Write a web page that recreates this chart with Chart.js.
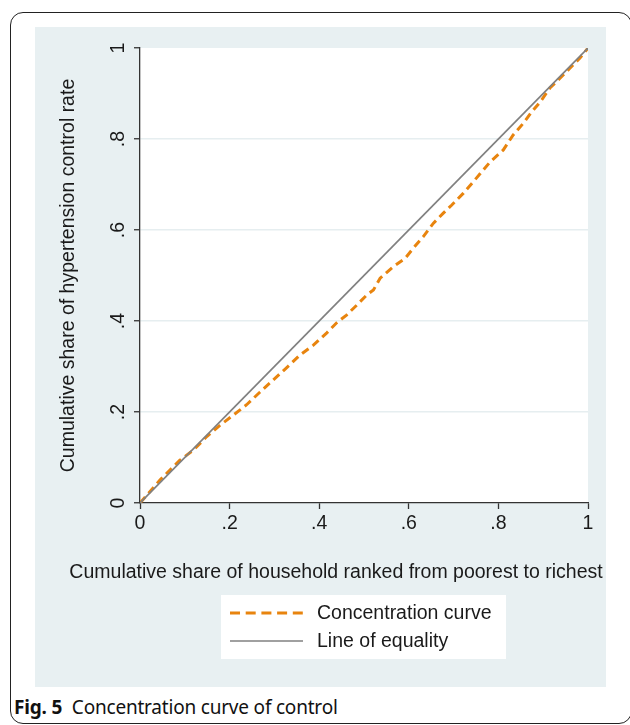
<!DOCTYPE html>
<html>
<head>
<meta charset="utf-8">
<script src="https://cdn.jsdelivr.net/npm/chart.js@4.4.1/dist/chart.umd.min.js"></script>
<style>
  html, body { margin: 0; padding: 0; background: #fff; width: 630px; height: 725px; overflow: hidden; }
  .frame { position: absolute; left: 10px; top: 12px; width: 622px; height: 712px; border: 1.3px solid #222; border-radius: 13px; box-sizing: border-box; }
  .panel { position: absolute; left: 35px; top: 27px; width: 571px; height: 660px; background: #e8f0f2; }
  .caption { position: absolute; left: 14px; top: 694px; font-family: "Noto Sans", sans-serif; font-size: 19px; color: #111; letter-spacing: -0.2px; }
  .caption b { font-weight: 700; margin-right: 5px; }
</style>
</head>
<body>
<div class="frame"></div>
<div class="panel"><canvas id="chart" width="571" height="660"></canvas></div>
<div class="caption"><b>Fig. 5</b> Concentration curve of control</div>

<script>
// ===============================
// DATA
// ===============================
const shareHouseholds = [0, .045, .089, .119, .149, .179, .208, .238, .268, .297, .327, .357, .387, .417, .439, .461, .484, .506, .521, .536, .565, .592, .610, .632, .655, .677, .696, .722, .744, .762, .781, .811, .833, .856, .874, .893, .915, .938, .960, .982, 1];
const shareControl    = [0, .051, .094, .116, .146, .171, .193, .216, .244, .270, .297, .325, .347, .374, .396, .413, .435, .457, .468, .494, .519, .538, .560, .585, .615, .637, .655, .681, .706, .727, .749, .776, .809, .835, .859, .881, .912, .934, .956, .978, 1];
const equalityX = [0, 1];
const equalityY = [0, 1];

const tickValues = [0, .2, .4, .6, .8, 1];
const tickLabels = ['0', '.2', '.4', '.6', '.8', '1'];

const xTitle = 'Cumulative share of household ranked from poorest to richest';
const yTitle = 'Cumulative share of hypertension control rate';

// ===============================
// STYLE
// ===============================
const FONT = { family: '"Liberation Sans", Arial, sans-serif', size: 19.5 };
const TEXT = '#1a1a1a';
const AXIS = '#333';

// ===============================
// PLUGINS
// ===============================
const plotBackground = {
  id: 'plotBackground',
  beforeDraw(chart) {
    const { ctx, chartArea: a } = chart;
    ctx.save();
    ctx.fillStyle = '#fff';
    ctx.fillRect(a.left, a.top, a.right - a.left, a.bottom - a.top);
    ctx.restore();
  }
};

// x title is wider than the axis, chart.js would squeeze it
const wideXTitle = {
  id: 'wideXTitle',
  afterDraw(chart) {
    const { ctx } = chart;
    ctx.save();
    ctx.font = `${FONT.size}px ${FONT.family}`;
    ctx.fillStyle = TEXT;
    ctx.textAlign = 'center';
    ctx.textBaseline = 'middle';
    ctx.fillText(xTitle, 301, 546);
    ctx.restore();
  }
};

const boxLegend = {
  id: 'boxLegend',
  afterDraw(chart) {
    const { ctx } = chart;
    ctx.save();
    ctx.fillStyle = '#fff';
    ctx.fillRect(186, 568, 285, 64);
    ctx.font = `${FONT.size}px ${FONT.family}`;
    ctx.textBaseline = 'middle';
    ctx.textAlign = 'left';
    chart.data.datasets.forEach((ds, i) => {
      const y = 586 + i * 28;
      ctx.strokeStyle = ds.borderColor;
      ctx.lineWidth = ds.borderWidth;
      ctx.setLineDash(ds.legendDash || []);
      ctx.beginPath();
      ctx.moveTo(195, y);
      ctx.lineTo(268, y);
      ctx.stroke();
      ctx.setLineDash([]);
      ctx.fillStyle = TEXT;
      ctx.fillText(ds.label, 282, y + 1);
    });
    ctx.restore();
  }
};

// ===============================
// CHART
// ===============================
new Chart(document.getElementById('chart'), {
  type: 'line',
  data: {
    datasets: [
      {
        label: 'Concentration curve',
        data: shareHouseholds.map((x, i) => ({ x, y: shareControl[i] })),
        borderColor: '#e8840e',
        borderWidth: 3,
        borderDash: [8, 5],
        legendDash: [10, 5.7],
        pointRadius: 0,
        tension: 0,
        order: 1
      },
      {
        label: 'Line of equality',
        data: equalityX.map((x, i) => ({ x, y: equalityY[i] })),
        borderColor: '#808080',
        borderWidth: 1.7,
        pointRadius: 0,
        tension: 0,
        order: 0
      }
    ]
  },
  options: {
    responsive: false,
    animation: false,
    devicePixelRatio: 1,
    layout: { padding: { left: 0, right: 18, top: 21, bottom: 94 } },
    plugins: {
      legend: { display: false },
      tooltip: { enabled: false }
    },
    scales: {
      x: {
        type: 'linear',
        min: 0,
        max: 1,
        afterBuildTicks: s => { s.ticks = tickValues.map(v => ({ value: v })); },
        afterFit: s => { s.height = 90; },
        ticks: {
          callback: (v, i) => tickLabels[i],
          font: FONT,
          color: TEXT,
          padding: 3,
          maxRotation: 0,
          minRotation: 0
        },
        grid: { drawOnChartArea: false, tickLength: 6, tickColor: AXIS, tickWidth: 1.3 },
        border: { color: AXIS, width: 1.3 },
        title: { display: false, text: xTitle }
      },
      y: {
        type: 'linear',
        min: 0,
        max: 1,
        afterBuildTicks: s => { s.ticks = tickValues.map(v => ({ value: v })); },
        afterFit: s => { s.width = 105; },
        ticks: {
          callback: (v, i) => tickLabels[i],
          font: FONT,
          color: TEXT,
          padding: 7,
          minRotation: 90,
          maxRotation: 90,
          crossAlign: 'center'
        },
        grid: {
          drawOnChartArea: true,
          color: c => (c.tick && (c.tick.value === 0 || c.tick.value === 1)) ? 'rgba(0,0,0,0)' : '#e6eef0',
          lineWidth: 1.5,
          tickLength: 6,
          tickColor: AXIS,
          tickWidth: 1.3
        },
        border: { color: AXIS, width: 1.3 },
        title: { display: true, text: yTitle, font: FONT, color: TEXT, padding: { top: 22, bottom: 0 } }
      }
    }
  },
  plugins: [plotBackground, wideXTitle, boxLegend]
});
</script>
</body>
</html>
